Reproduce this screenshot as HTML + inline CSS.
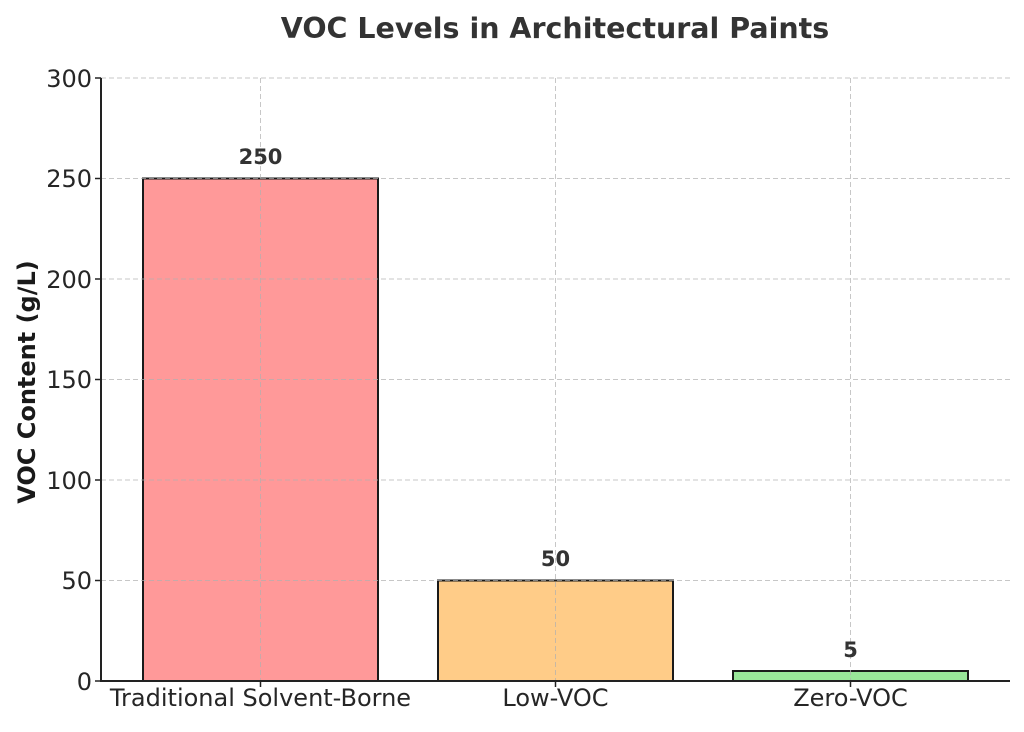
<!DOCTYPE html><html><head><style>body{margin:0;background:#fff}</style></head><body>
<svg width="1024" height="727" xmlns="http://www.w3.org/2000/svg" font-family="DejaVu Sans, Liberation Sans, sans-serif">
<rect width="1024" height="727" fill="#fff"/>
<rect x="143" y="178.5" width="235" height="502.5" fill="#ff9999" stroke="#1a1a1a" stroke-width="2"/>
<rect x="438" y="580.5" width="235" height="100.5" fill="#ffcc88" stroke="#1a1a1a" stroke-width="2"/>
<rect x="733" y="671" width="235" height="10" fill="#99e699" stroke="#1a1a1a" stroke-width="2"/>
<g stroke="#b0b0b0" stroke-width="1" stroke-dasharray="5,3" opacity="0.7">
<line x1="101" x2="1010" y1="78" y2="78"/><line x1="101" x2="1010" y1="178.5" y2="178.5"/><line x1="101" x2="1010" y1="279" y2="279"/><line x1="101" x2="1010" y1="379.5" y2="379.5"/><line x1="101" x2="1010" y1="480" y2="480"/><line x1="101" x2="1010" y1="580.5" y2="580.5"/>
<line x1="260.5" x2="260.5" y1="78" y2="681"/><line x1="555.5" x2="555.5" y1="78" y2="681"/><line x1="850.5" x2="850.5" y1="78" y2="681"/>
</g>
<g stroke="#222" stroke-width="2"><line x1="101" y1="78" x2="101" y2="682"/><line x1="100" y1="681" x2="1010" y2="681"/></g>
<g stroke="#222" stroke-width="1.5"><line x1="95" x2="101" y1="78" y2="78"/><line x1="95" x2="101" y1="178.5" y2="178.5"/><line x1="95" x2="101" y1="279" y2="279"/><line x1="95" x2="101" y1="379.5" y2="379.5"/><line x1="95" x2="101" y1="480" y2="480"/><line x1="95" x2="101" y1="580.5" y2="580.5"/><line x1="95" x2="101" y1="681" y2="681"/>
<line x1="260.5" x2="260.5" y1="681" y2="687"/><line x1="555.5" x2="555.5" y1="681" y2="687"/><line x1="850.5" x2="850.5" y1="681" y2="687"/></g>
<g font-size="24" fill="#262626" text-anchor="end">
<text x="92" y="87">300</text><text x="92" y="187">250</text><text x="92" y="288">200</text><text x="92" y="388">150</text><text x="92" y="489">100</text><text x="92" y="589">50</text><text x="92" y="690">0</text></g>
<g font-size="24" fill="#262626" text-anchor="middle">
<text x="260.5" y="706">Traditional Solvent-Borne</text><text x="555.5" y="706">Low-VOC</text><text x="850.5" y="706">Zero-VOC</text></g>
<g font-size="21" font-weight="bold" fill="#333" text-anchor="middle">
<text x="260.5" y="164">250</text><text x="555.5" y="566">50</text><text x="850.5" y="657">5</text></g>
<text x="555" y="38" font-size="28.5" font-weight="bold" fill="#333" text-anchor="middle">VOC Levels in Architectural Paints</text>
<text transform="translate(35,382) rotate(-90)" font-size="24" font-weight="bold" fill="#1a1a1a" text-anchor="middle">VOC Content (g/L)</text>
</svg></body></html>
